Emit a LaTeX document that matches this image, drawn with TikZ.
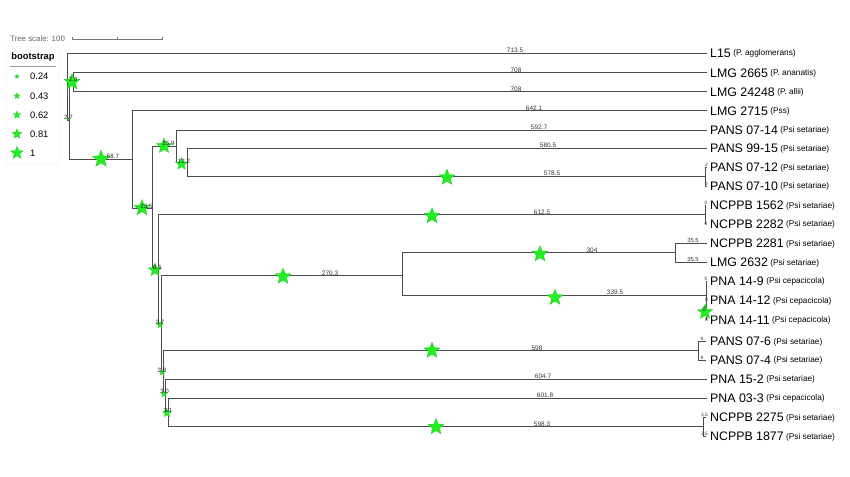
\documentclass[tikz,border=0pt]{standalone}
\usepackage{fontspec}
\setmainfont{Liberation Sans}
\usetikzlibrary{positioning, shapes.geometric}
\definecolor{bootgreen}{RGB}{34,238,34}
\newcommand{\spec}[1]{\hspace{2.5pt}\raisebox{1.5pt}{\fontsize{8.3}{9}\selectfont #1}}

\begin{document}
\begin{tikzpicture}[
        x=1bp, y=-1bp,
        branch/.style={
            draw=black!70,
            line width=0.75bp
        },
        boot/.style={
            star,
            star points=5,
            star point ratio=2.3,
            fill=bootgreen,
            draw=bootgreen!80!black,
            line width=0.2bp,
            inner sep=0pt,
            minimum size=#1
        },
        leaf/.style={
            inner sep=0pt,
            text height=8.8pt,
            text depth=0pt,
            font=\fontsize{12.4}{14}\selectfont
        },
        blen/.style={
            anchor=south,
            inner sep=0.3pt,
            text=black!80,
            font=\fontsize{6.5}{7}\selectfont
        },
        bval/.style={
            inner sep=0pt,
            text=black!85,
            font=\fontsize{6.2}{7}\selectfont
        }
    ]

    \useasboundingbox (0,0) rectangle (850,477);

    % tree scale and legend
    \node[anchor=west, inner sep=0pt, text=black!60, font=\fontsize{7.9}{8}\selectfont] (scale) at (10,39) {Tree scale: 100};
    \coordinate (sb0) at (72,39);
    \coordinate (sbm) at (117,39);
    \coordinate (sb1) at (162,39);
    \draw[black!55, line width=0.6bp] (sb0) -- (sb1);
    \draw[black!55, line width=0.5bp] ([yshift=-1.5bp]sb0) -- ([yshift=1.5bp]sb0);
    \draw[black!55, line width=0.5bp] ([yshift=-1.5bp]sbm) -- ([yshift=1.5bp]sbm);
    \draw[black!55, line width=0.5bp] ([yshift=-1.5bp]sb1) -- ([yshift=1.5bp]sb1);

    \draw[black!10, fill=white, rounded corners=1bp] (6,47) rectangle (59,164);
    \node[inner sep=0pt, font=\fontsize{9.4}{10}\selectfont\bfseries] (lgtitle) at (33,57) {bootstrap};
    \draw[black!40, line width=0.8bp] (10,66) -- (56,66);
    \node[boot=4.5bp] (lgs1) at (17,76.5) {};
    \node[boot=6.5bp] (lgs2) at (17,96) {};
    \node[boot=8bp] (lgs3) at (17,115) {};
    \node[boot=10.5bp] (lgs4) at (17,134) {};
    \node[boot=13.5bp] (lgs5) at (17,153) {};
    \node[anchor=west, inner sep=0pt, font=\fontsize{9.4}{10}\selectfont] at (30,76.5) {0.24};
    \node[anchor=west, inner sep=0pt, font=\fontsize{9.4}{10}\selectfont] at (30,96) {0.43};
    \node[anchor=west, inner sep=0pt, font=\fontsize{9.4}{10}\selectfont] at (30,115) {0.62};
    \node[anchor=west, inner sep=0pt, font=\fontsize{9.4}{10}\selectfont] at (30,134) {0.81};
    \node[anchor=west, inner sep=0pt, font=\fontsize{9.4}{10}\selectfont] at (30,153) {1};

    % internal nodes
    \coordinate (nR) at (67,86.8);
    \coordinate (nA) at (69.5,120.5);
    \coordinate (nB) at (73,82.2);
    \coordinate (nC) at (132,159.3);
    \coordinate (nD) at (152,208.5);
    \coordinate (nE) at (176,146.5);
    \coordinate (nG) at (187,162.7);
    \coordinate (nH) at (705,176.5);
    \coordinate (nF) at (158,270);
    \coordinate (nNa) at (705,214.8);
    \coordinate (nL) at (161,324.5);
    \coordinate (nM) at (402,275.7);
    \coordinate (nN) at (675,252.8);
    \coordinate (nO) at (706,295.5);
    \coordinate (nP) at (706.5,310.5);
    \coordinate (nK) at (163,372.8);
    \coordinate (nQ) at (698,350.8);
    \coordinate (nJ) at (165,395.7);
    \coordinate (nI) at (168,412.5);
    \coordinate (nNb) at (703,426.8);

    % leaf tips
    \coordinate (tL15) at (707,53);
    \coordinate (t2665) at (707,72.7);
    \coordinate (t24248) at (707,91.7);
    \coordinate (t2715) at (707,110.7);
    \coordinate (t0714) at (707,130);
    \coordinate (t9915) at (707,148.5);
    \coordinate (t0712) at (707,167.5);
    \coordinate (t0710) at (707,186);
    \coordinate (t1562) at (705,205.5);
    \coordinate (t2282) at (705,224);
    \coordinate (t2281) at (707,243.3);
    \coordinate (t2632) at (707,262.5);
    \coordinate (t149) at (706,281);
    \coordinate (t1412) at (706.5,300.5);
    \coordinate (t1411) at (706.5,320);
    \coordinate (t076) at (706,341.5);
    \coordinate (t074) at (706,360);
    \coordinate (t152) at (707,379);
    \coordinate (t033) at (707,398);
    \coordinate (t2275) at (706,417.3);
    \coordinate (t1877) at (706,436.5);

    % branches
    \draw[branch] (nR) |- (tL15);
    \draw[branch] (nR) |- (nA);
    \draw[branch] (nA) |- (nB);
    \draw[branch] (nB) |- (t2665);
    \draw[branch] (nB) |- (t24248);
    \draw[branch] (nA) |- (nC);
    \draw[branch] (nC) |- (t2715);
    \draw[branch] (nC) |- (nD);
    \draw[branch] (nD) |- (nE);
    \draw[branch] (nE) |- (t0714);
    \draw[branch] (nE) |- (nG);
    \draw[branch] (nG) |- (t9915);
    \draw[branch] (nG) |- (nH);
    \draw[branch] (nH) |- (t0712);
    \draw[branch] (nH) |- (t0710);
    \draw[branch] (nD) |- (nF);
    \draw[branch] (nF) |- (nNa);
    \draw[branch] (nNa) |- (t1562);
    \draw[branch] (nNa) |- (t2282);
    \draw[branch] (nF) |- (nL);
    \draw[branch] (nL) |- (nM);
    \draw[branch] (nM) |- (nN);
    \draw[branch] (nN) |- (t2281);
    \draw[branch] (nN) |- (t2632);
    \draw[branch] (nM) |- (nO);
    \draw[branch] (nO) |- (t149);
    \draw[branch] (nO) |- (nP);
    \draw[branch] (nP) |- (t1412);
    \draw[branch] (nP) |- (t1411);
    \draw[branch] (nL) |- (nK);
    \draw[branch] (nK) |- (nQ);
    \draw[branch] (nQ) |- (t076);
    \draw[branch] (nQ) |- (t074);
    \draw[branch] (nK) |- (nJ);
    \draw[branch] (nJ) |- (t152);
    \draw[branch] (nJ) |- (nI);
    \draw[branch] (nI) |- (t033);
    \draw[branch] (nI) |- (nNb);
    \draw[branch] (nNb) |- (t2275);
    \draw[branch] (nNb) |- (t1877);

    % bootstrap stars
    \node[boot=3bp] (bA) at (68.5,119) {};
    \node[boot=17bp] (bB) at (72,82) {};
    \node[boot=18bp] (bC) at (101,159) {};
    \node[boot=17bp] (bD) at (142,208) {};
    \node[boot=16bp] (bE) at (164,146) {};
    \node[boot=13bp] (bG) at (181.5,164) {};
    \node[boot=14bp] (bF) at (155,270) {};
    \node[boot=7bp] (bL) at (160,325) {};
    \node[boot=6bp] (bK) at (162,372.5) {};
    \node[boot=7bp] (bJ) at (164,394) {};
    \node[boot=9bp] (bI) at (167,413) {};
    \node[boot=16bp] (bP) at (705,312) {};
    \node[boot=17bp] (bH) at (447,177.5) {};
    \node[boot=17bp] (bNa) at (432,216) {};
    \node[boot=17bp] (bM) at (283,276.5) {};
    \node[boot=17bp] (bN) at (540,254) {};
    \node[boot=17bp] (bO) at (555,297.5) {};
    \node[boot=17bp] (bQ) at (432,350.5) {};
    \node[boot=17bp] (bNb) at (436,427) {};

    % support values
    \node[bval] at (73,79.5) {2.8};
    \node[bval] at (68.5,117) {2.7};
    \node[bval] at (113,156.5) {58.7};
    \node[bval] at (146.5,206) {23.5};
    \node[bval] at (168.5,143.5) {25.9};
    \node[bval] at (184,161) {12.2};
    \node[bval] at (157.5,267.5) {8.1};
    \node[bval] at (160,322) {2.7};
    \node[bval] at (162,370) {3.8};
    \node[bval] at (164.5,391.5) {3.0};
    \node[bval] at (168,410) {3.1};
    \node[bval] at (704,309) {0};

    % branch lengths
    \node[blen] at (515,53) {713.5};
    \node[blen] at (516,72.7) {708};
    \node[blen] at (516,91.7) {708};
    \node[blen] at (534,110.7) {642.1};
    \node[blen] at (539,130) {592.7};
    \node[blen] at (548,148.5) {580.5};
    \node[blen] at (552,176.5) {578.5};
    \node[blen] at (542,214.8) {612.5};
    \node[blen] at (330,275.7) {270.3};
    \node[blen] at (592,252.8) {304};
    \node[blen] at (615,295.5) {339.5};
    \node[blen] at (537,350.8) {598};
    \node[blen] at (543,379) {604.7};
    \node[blen] at (545,398) {601.8};
    \node[blen] at (542,426.8) {598.3};
    \node[blen, font=\fontsize{5.8}{6}\selectfont] at (693,243.3) {35.5};
    \node[blen, font=\fontsize{5.8}{6}\selectfont] at (693,262.5) {35.5};
    \node[blen, font=\fontsize{4.8}{5}\selectfont] at (706.5,167.5) {2};
    \node[blen, font=\fontsize{4.8}{5}\selectfont] at (706.5,186) {2};
    \node[blen, font=\fontsize{4.8}{5}\selectfont] at (706,205.5) {0};
    \node[blen, font=\fontsize{4.8}{5}\selectfont] at (706,226) {0};
    \node[blen, font=\fontsize{4.8}{5}\selectfont] at (706,281) {0};
    \node[blen, font=\fontsize{4.8}{5}\selectfont] at (706.5,302.5) {0};
    \node[blen, font=\fontsize{4.8}{5}\selectfont] at (706.5,322) {0};
    \node[blen, font=\fontsize{4.8}{5}\selectfont] at (702,341.5) {9};
    \node[blen, font=\fontsize{4.8}{5}\selectfont] at (702,360) {9};
    \node[blen, font=\fontsize{4.8}{5}\selectfont] at (704.5,417.3) {3.5};
    \node[blen, font=\fontsize{4.8}{5}\selectfont] at (704.5,436.5) {3.5};

    % leaf labels
    \node[leaf, right=3bp of tL15] (L15) {L15\spec{(P. agglomerans)}};
    \node[leaf, right=3bp of t2665] (LMG2665) {LMG 2665\spec{(P. ananatis)}};
    \node[leaf, right=3bp of t24248] (LMG24248) {LMG 24248\spec{(P. allii)}};
    \node[leaf, right=3bp of t2715] (LMG2715) {LMG 2715\spec{(Pss)}};
    \node[leaf, right=3bp of t0714] (PANS0714) {PANS 07-14\spec{(Psi setariae)}};
    \node[leaf, right=3bp of t9915] (PANS9915) {PANS 99-15\spec{(Psi setariae)}};
    \node[leaf, right=3bp of t0712] (PANS0712) {PANS 07-12\spec{(Psi setariae)}};
    \node[leaf, right=3bp of t0710] (PANS0710) {PANS 07-10\spec{(Psi setariae)}};
    \node[leaf, right=5bp of t1562] (NCPPB1562) {NCPPB 1562\spec{(Psi setariae)}};
    \node[leaf, right=5bp of t2282] (NCPPB2282) {NCPPB 2282\spec{(Psi setariae)}};
    \node[leaf, right=3bp of t2281] (NCPPB2281) {NCPPB 2281\spec{(Psi setariae)}};
    \node[leaf, right=3bp of t2632] (LMG2632) {LMG 2632\spec{(Psi setariae)}};
    \node[leaf, right=4bp of t149] (PNA149) {PNA 14-9\spec{(Psi cepacicola)}};
    \node[leaf, right=3.5bp of t1412] (PNA1412) {PNA 14-12\spec{(Psi cepacicola)}};
    \node[leaf, right=3.5bp of t1411] (PNA1411) {PNA 14-11\spec{(Psi cepacicola)}};
    \node[leaf, right=4bp of t076] (PANS076) {PANS 07-6\spec{(Psi setariae)}};
    \node[leaf, right=4bp of t074] (PANS074) {PANS 07-4\spec{(Psi setariae)}};
    \node[leaf, right=3bp of t152] (PNA152) {PNA 15-2\spec{(Psi setariae)}};
    \node[leaf, right=3bp of t033] (PNA033) {PNA 03-3\spec{(Psi cepacicola)}};
    \node[leaf, right=4bp of t2275] (NCPPB2275) {NCPPB 2275\spec{(Psi setariae)}};
    \node[leaf, right=4bp of t1877] (NCPPB1877) {NCPPB 1877\spec{(Psi setariae)}};

\end{tikzpicture}
\end{document}
